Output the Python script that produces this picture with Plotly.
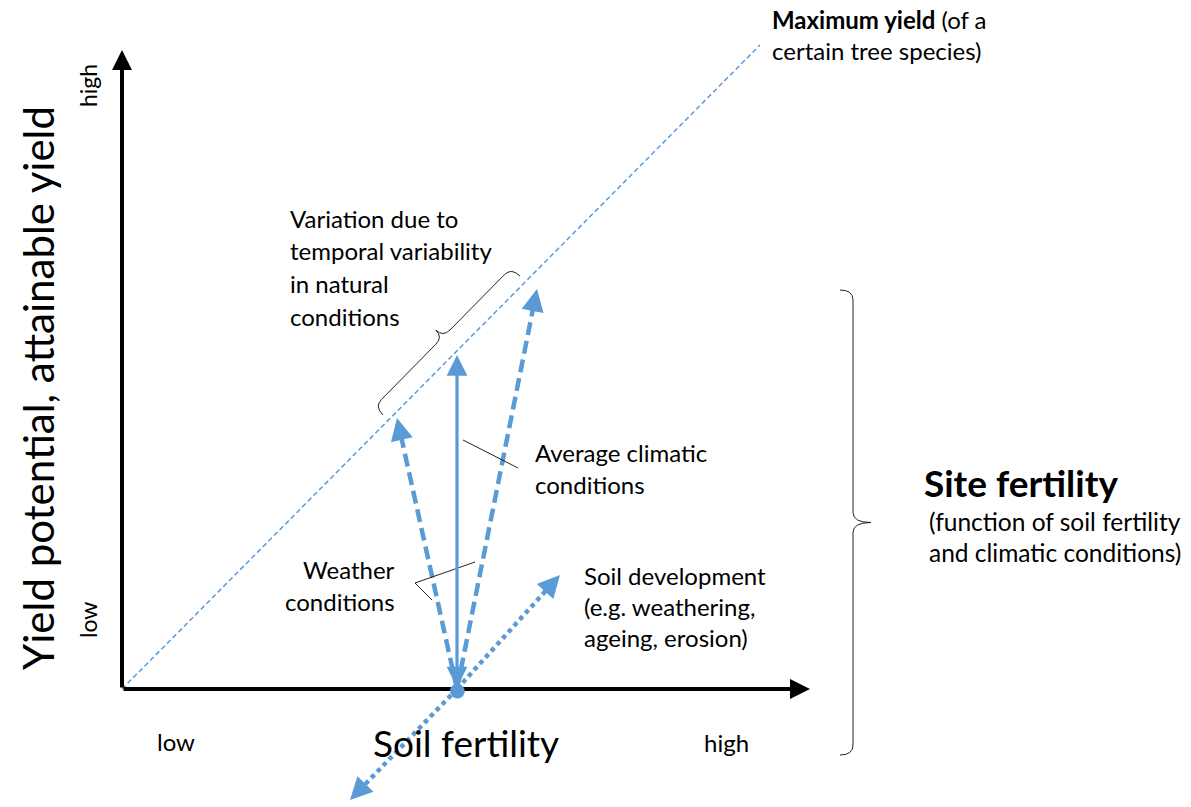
import numpy as np
import plotly.graph_objects as go

# ---- conceptual data (diagram units; origin = low/low corner) ----
axis_x_end = [688, 0]          # soil fertility axis tip
axis_y_end = [0, 639]          # yield axis tip
max_yield_x = [0, 638]
max_yield_y = [0, 644]
soil_point = [335, 0]
avg_tip = [335, 334]
weather_low_tip = [275, 271]
weather_high_tip = [415, 400]
soil_dev_ends = [[228, -111], [438, 114]]
avg_leader = [[341, 249], [396, 221]]
weather_leader = [[353, 127], [293, 106], [310, 89]]
variation_brace = [[261, 274], [398, 413]]
site_brace = [[718, 399], [718, -66]]

BLUE = "#5B9BD5"
FONT = "Lato"
INK = "#000000"

fig = go.Figure()

# maximum yield line
fig.add_trace(go.Scatter(x=max_yield_x, y=max_yield_y, mode="lines",
                         line=dict(color=BLUE, width=1.5, dash="5px,3px"),
                         hoverinfo="skip"))

annotations = []

def head(p0, p1, width=4, size=1.1, back=24):
    p0 = np.array(p0, float); p1 = np.array(p1, float)
    u = (p1 - p0) / np.linalg.norm(p1 - p0)
    tail = p1 - back * u
    annotations.append(dict(x=p1[0], y=p1[1], ax=tail[0], ay=tail[1], xref="x", yref="y",
                            axref="x", ayref="y", showarrow=True, arrowhead=2,
                            arrowsize=size, arrowwidth=width, arrowcolor=BLUE,
                            text="", standoff=0))

def arrow_trace(p0, p1, dash, width, shrink=14):
    p0a = np.array(p0, float); p1a = np.array(p1, float)
    u = (p1a - p0a) / np.linalg.norm(p1a - p0a)
    end = p1a - shrink * u
    fig.add_trace(go.Scatter(
        x=[p0a[0], end[0]], y=[p0a[1], end[1]], mode="lines",
        line=dict(color=BLUE, width=width, dash=dash), hoverinfo="skip"))
    head(p0, p1, width=width * 0.9)

# weather dashed arrows
arrow_trace(soil_point, weather_low_tip, "13px,6px", 4.5)
arrow_trace(soil_point, weather_high_tip, "13px,6px", 4.5)
# soil development dotted double arrow
arrow_trace(soil_point, soil_dev_ends[0], "4.5px,4px", 4.5)
arrow_trace(soil_point, soil_dev_ends[1], "4.5px,4px", 4.5)

# leader lines
fig.add_trace(go.Scatter(x=[p[0] for p in avg_leader], y=[p[1] for p in avg_leader],
                         mode="lines", line=dict(color="#222222", width=1), hoverinfo="skip"))
fig.add_trace(go.Scatter(x=[p[0] for p in weather_leader], y=[p[1] for p in weather_leader],
                         mode="lines", line=dict(color="#222222", width=1), hoverinfo="skip"))

# axes arrows
for tip in (axis_x_end, axis_y_end):
    annotations.append(dict(x=tip[0], y=tip[1], ax=0, ay=0, xref="x", yref="y",
                            axref="x", ayref="y", showarrow=True, arrowhead=2, arrowsize=1,
                            arrowwidth=4, arrowcolor="black", text="", standoff=0))
# average climatic solid arrow (both ends)
annotations.append(dict(x=avg_tip[0], y=avg_tip[1], ax=soil_point[0], ay=soil_point[1],
                        xref="x", yref="y", axref="x", ayref="y", showarrow=True,
                        arrowhead=2, arrowsize=1.3, arrowwidth=3.2, arrowcolor=BLUE,
                        arrowside="end+start", text="", standoff=0, startstandoff=0,
                        startarrowhead=2, startarrowsize=1.3))

# soil point dot (drawn on top of the arrows)
annotations.append(dict(x=soil_point[0], y=soil_point[1], xref="x", yref="y",
                        text="●", showarrow=False,
                        xanchor="center", yanchor="middle",
                        font=dict(family="DejaVu Sans", size=19, color=BLUE)))

def text(x, y, s, size=24, xanchor="left", bold=False, angle=0):
    if bold:
        s = "<b>" + s + "</b>"
    annotations.append(dict(x=x, y=y, xref="x", yref="y", text=s, showarrow=False,
                            xanchor=xanchor, yanchor="middle", textangle=angle,
                            font=dict(family=FONT, size=size, color=INK)))

text(-84, 301, "Yield potential, attainable yield", size=42, xanchor="center", angle=-90)
text(-34, 603, "high", size=23, xanchor="center", angle=-90)
text(-34, 69, "low", size=23, xanchor="center", angle=-90)
text(54, -52, "low", size=24, xanchor="center")
text(604, -53, "high", size=24, xanchor="center")
text(344, -53, "Soil fertility", size=37, xanchor="center")
text(648, 670, "<b>Maximum yield</b> (of a", size=24)
text(648, 639, "certain tree species)", size=24)
for yy, s in zip([471, 439, 406, 373],
                 ["Variation due to", "temporal variability", "in natural", "conditions"]):
    text(166, yy, s)
for yy, s in zip([237, 205], ["Average climatic", "conditions"]):
    text(411, yy, s)
for yy, s in zip([120, 88], ["Weather", "conditions"]):
    text(275, yy, s, xanchor="right")
for yy, s in zip([114, 83, 52], ["Soil development", "(e.g. weathering,", "ageing, erosion)"]):
    text(460, yy, s)
text(800, 207, "Site fertility", size=37, bold=True)
text(805, 168, "(function of soil fertility", size=24.5)
text(805, 137, "and climatic conditions)", size=24.5)

def brace_path(p0, p1, normal_sign, depth=10, cusp=10, r=10):
    p0 = np.array(p0, float); p1 = np.array(p1, float)
    L = np.linalg.norm(p1 - p0)
    u = (p1 - p0) / L
    n = np.array([-u[1], u[0]]) * normal_sign
    def P(s, d):
        q = p0 + s * u + d * n
        return f"{q[0]:.2f},{q[1]:.2f}"
    h = L / 2
    return (f"M {P(0,0)} Q {P(0,depth)} {P(r,depth)} L {P(h-r,depth)} "
            f"Q {P(h,depth)} {P(h,depth+cusp)} Q {P(h,depth)} {P(h+r,depth)} "
            f"L {P(L-r,depth)} Q {P(L,depth)} {P(L,0)}")

shapes = [
    dict(type="path", xref="x", yref="y",
         path=brace_path(variation_brace[0], variation_brace[1], 1, depth=12, cusp=10, r=10),
         line=dict(color="#222222", width=1)),
    dict(type="path", xref="x", yref="y",
         path=brace_path(site_brace[0], site_brace[1], 1, depth=13, cusp=18, r=10),
         line=dict(color="#222222", width=1)),
]

fig.update_layout(
    width=1191, height=807, margin=dict(l=0, r=0, t=0, b=0),
    paper_bgcolor="white", plot_bgcolor="white", showlegend=False,
    xaxis=dict(range=[-122, 1069], visible=False, fixedrange=True),
    yaxis=dict(range=[-118, 689], visible=False, fixedrange=True),
    annotations=annotations, shapes=shapes,
)

fig.write_html("out.html", config={"displayModeBar": False},
               post_script="document.body.style.margin='0';")
